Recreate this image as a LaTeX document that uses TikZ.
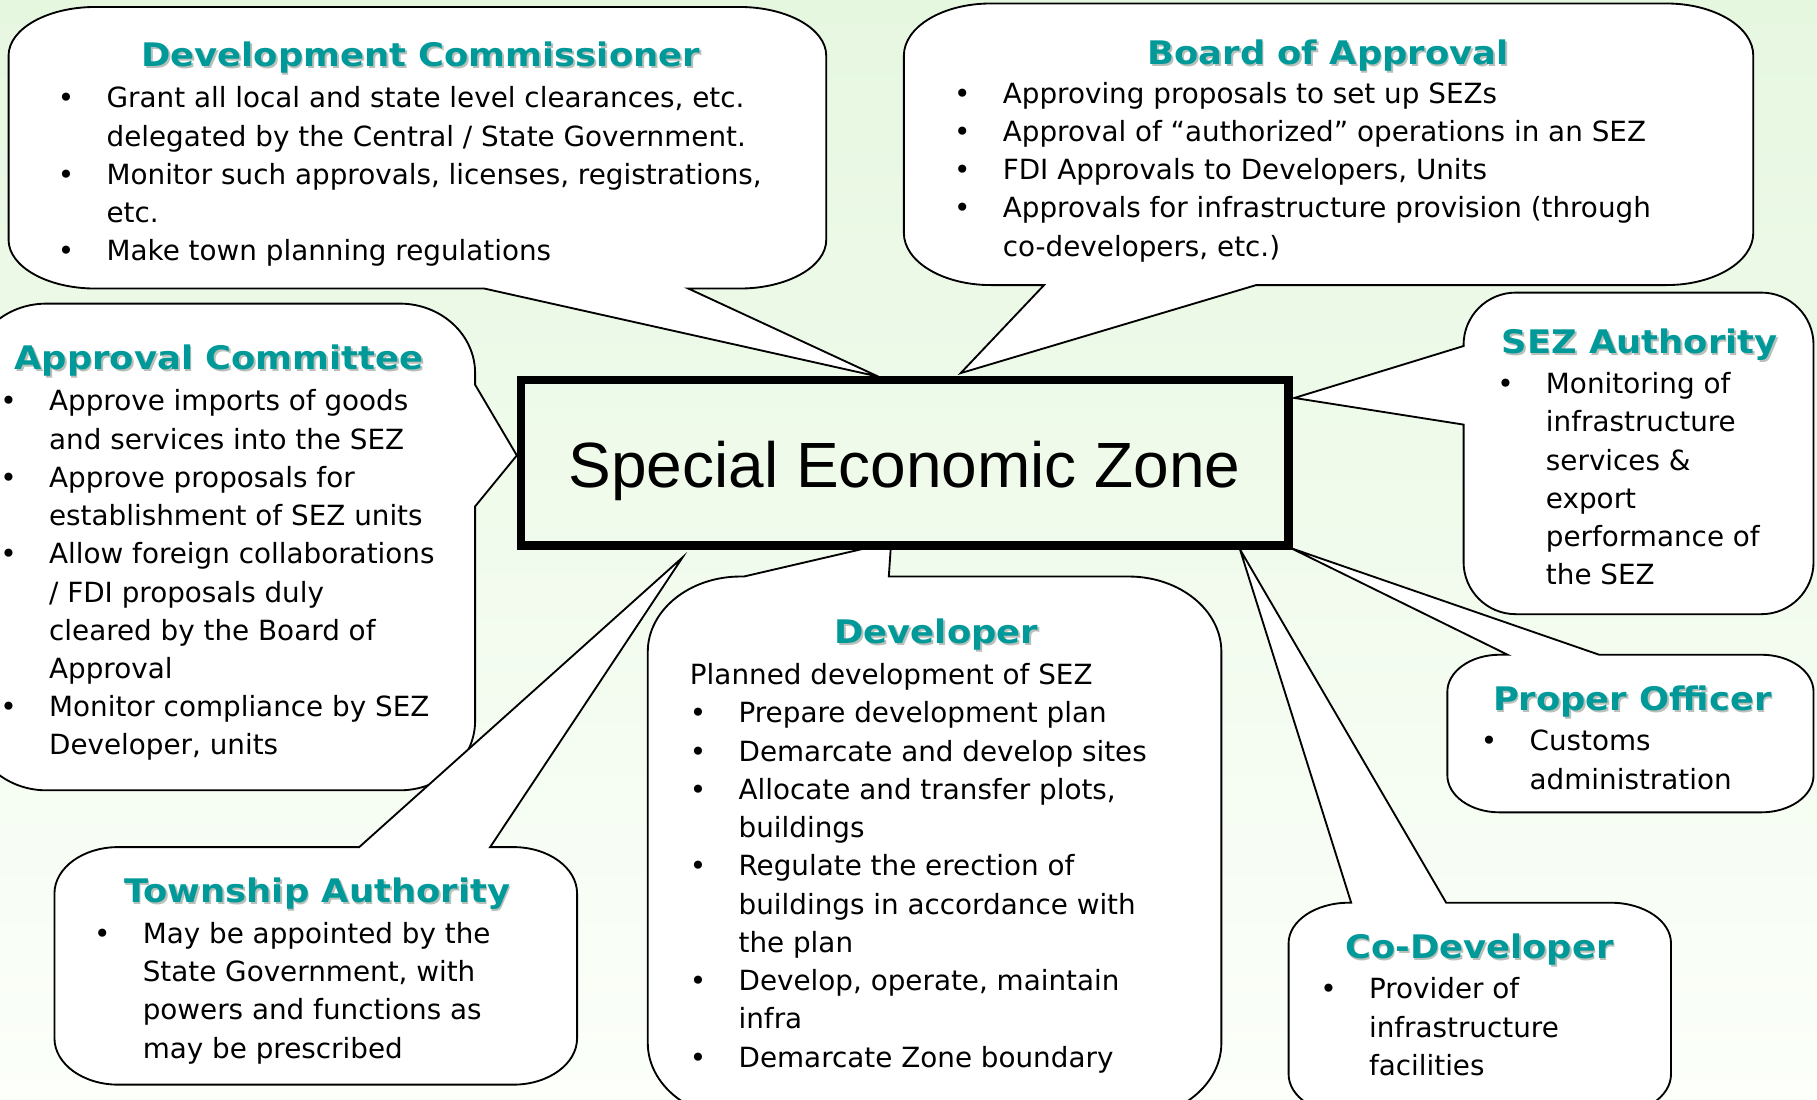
\documentclass[tikz,border=0pt]{standalone}
\usepackage{fontspec}
\setmainfont{DejaVu Sans}
\newfontfamily\ttlfont{DejaVu Sans}[FakeStretch=1.09]
\newfontfamily\boxfont{Liberation Sans}
\definecolor{ttlteal}{RGB}{0,153,153}
\definecolor{ttlshade}{RGB}{185,192,185}
\definecolor{bgtop}{RGB}{230,247,224}
\definecolor{bgbot}{RGB}{252,255,250}
\newcommand\bul{\makebox[21pt][l]{•}}
\newcommand\ind{\hspace*{21pt}}
\def\setc#1#2#3#4#5#6{\def\cL{#1}\def\cT{#2}\def\cR{#3}\def\cB{#4}\def\crx{#5}\def\cry{#6}}
\newcommand\callout[4]{%
\path[callout] (\cL+\crx,\cT) #1 -- (\cR-\crx,\cT)
 .. controls (\cR-0.448*\crx,\cT) and (\cR,\cT+0.448*\cry) .. (\cR,\cT+\cry) #2
 -- (\cR,\cB-\cry) .. controls (\cR,\cB-0.448*\cry) and (\cR-0.448*\crx,\cB) .. (\cR-\crx,\cB) #3
 -- (\cL+\crx,\cB) .. controls (\cL+0.448*\crx,\cB) and (\cL,\cB-0.448*\cry) .. (\cL,\cB-\cry) #4
 -- (\cL,\cT+\cry) .. controls (\cL,\cT+0.448*\cry) and (\cL+0.448*\crx,\cT) .. (\cL+\crx,\cT) -- cycle;}
\begin{document}
\begin{tikzpicture}[x=0.5pt,y=-0.5pt,
  callout/.style={fill=white,draw=black,line width=0.8pt},
  body/.style={inner sep=0pt,anchor=base west,font=\fontsize{12}{16.5}\selectfont},
  ttl/.style={inner sep=0pt,anchor=base,text=ttlteal,font=\ttlfont\bfseries\fontsize{14}{16}\selectfont},
  ttlsh/.style={ttl,text=ttlshade},
  sezbox/.style={draw=black,line width=3.6pt,inner sep=0pt,minimum width=331.15pt,minimum height=71.3pt}]
\clip (0,0) rectangle (1568,949);
\begin{scope}[y=0.5pt]
\shade[top color=bgtop,bottom color=bgbot] (0,-949) rectangle (1568,0);
\end{scope}

% Development Commissioner
\setc{7.4}{6}{713}{249}{75}{42}
\callout{}{}{-- (594,249) -- (758,325) -- (418,249)}{}
% Board of Approval
\setc{780}{3}{1513}{246}{75}{45}
\callout{}{}{-- (1084,246) -- (829,322) -- (901,246)}{}
% Approval Committee
\setc{-25}{262}{410}{682}{65}{60}
\callout{}{-- (410,332) -- (446,393) -- (410,437)}{}{}
% Township Authority
\setc{47}{731}{498}{936}{55}{40}
\callout{-- (310,731) -- (589,481) -- (423,731)}{}{}{}
% SEZ Authority
\setc{1263}{252.5}{1565}{530}{45}{45}
\callout{}{}{}{-- (1263,366.4) -- (1117,343.4) -- (1263,298.6)}
% Proper Officer
\setc{1249}{565}{1565}{701}{45}{32}
\callout{-- (1301,565) -- (1114,473) -- (1380,565)}{}{}{}
% Developer
\setc{559}{497.5}{1054}{965}{80}{65}
\callout{-- (642,497.5) -- (769,468) -- (767,497.5)}{}{}{}
% Co-Developer
\setc{1112}{779}{1442}{962}{52}{35}
\callout{-- (1166,779) -- (1070,474) -- (1248,779)}{}{}{}

% central box
\node[sezbox] (sez) at (780.65,399.4) {};
\node[inner sep=0pt,anchor=base,font=\boxfont\fontsize{27.6}{30}\selectfont] (sez-t) at (780.65,421) {Special Economic Zone};

% titles
\node[ttlsh] (dc-s) at (364.5,59) {Development Commissioner};
\node[ttl] (dc-h) at (363,57.5) {Development Commissioner};
\node[ttlsh] (ba-s) at (1147.5,57.5) {Board of Approval};
\node[ttl] (ba-h) at (1146,56) {Board of Approval};
\node[ttlsh] (ac-s) at (190.5,320.5) {Approval Committee};
\node[ttl] (ac-h) at (189,319) {Approval Committee};
\node[ttlsh] (ta-s) at (275.2,780.5) {Township Authority};
\node[ttl] (ta-h) at (273.7,779) {Township Authority};
\node[ttlsh] (dv-s) at (809.5,557.2) {Developer};
\node[ttl] (dv-h) at (808,555.7) {Developer};
\node[ttlsh] (sa-s) at (1416.5,306.5) {SEZ Authority};
\node[ttl] (sa-h) at (1415,305) {SEZ Authority};
\node[ttlsh] (po-s) at (1410.1,614.5) {Proper Officer};
\node[ttl] (po-h) at (1408.6,613) {Proper Officer};
\node[ttlsh] (cd-s) at (1278.1,828.5) {Co-Developer};
\node[ttl] (cd-h) at (1276.6,827) {Co-Developer};

% bodies
\node[body] (dc-b) at (49.6,93) {\begin{tabular}[t]{@{}l@{}}
\bul Grant all local and state level clearances, etc.\\
\ind delegated by the Central / State Government.\\
\bul Monitor such approvals, licenses, registrations,\\
\ind etc.\\
\bul Make town planning regulations\end{tabular}};

\node[body] (ba-b) at (823,89) {\begin{tabular}[t]{@{}l@{}}
\bul Approving proposals to set up SEZs\\
\bul Approval of “authorized” operations in an SEZ\\
\bul FDI Approvals to Developers, Units\\
\bul Approvals for infrastructure provision (through\\
\ind co-developers, etc.)\end{tabular}};

\node[body] (ac-b) at (0,354.5) {\begin{tabular}[t]{@{}l@{}}
\bul Approve imports of goods\\
\ind and services into the SEZ\\
\bul Approve proposals for\\
\ind establishment of SEZ units\\
\bul Allow foreign collaborations\\
\ind / FDI proposals duly\\
\ind cleared by the Board of\\
\ind Approval\\
\bul Monitor compliance by SEZ\\
\ind Developer, units\end{tabular}};

\node[body] (ta-b) at (80.8,814) {\begin{tabular}[t]{@{}l@{}}
\bul May be appointed by the\\
\ind State Government, with\\
\ind powers and functions as\\
\ind may be prescribed\end{tabular}};

\node[body] (dv-b) at (595,590.8) {\begin{tabular}[t]{@{}l@{}}
Planned development of SEZ\\
\bul Prepare development plan\\
\bul Demarcate and develop sites\\
\bul Allocate and transfer plots,\\
\ind buildings\\
\bul Regulate the erection of\\
\ind buildings in accordance with\\
\ind the plan\\
\bul Develop, operate, maintain\\
\ind infra\\
\bul Demarcate Zone boundary\end{tabular}};

\node[body] (sa-b) at (1291.7,339.7) {\begin{tabular}[t]{@{}l@{}}
\bul Monitoring of\\
\ind infrastructure\\
\ind services \&\\
\ind export\\
\ind performance of\\
\ind the SEZ\end{tabular}};

\node[body] (po-b) at (1277.6,648) {\begin{tabular}[t]{@{}l@{}}
\bul Customs\\
\ind administration\end{tabular}};

\node[body] (cd-b) at (1139,862) {\begin{tabular}[t]{@{}l@{}}
\bul Provider of\\
\ind infrastructure\\
\ind facilities\end{tabular}};
\end{tikzpicture}
\end{document}
